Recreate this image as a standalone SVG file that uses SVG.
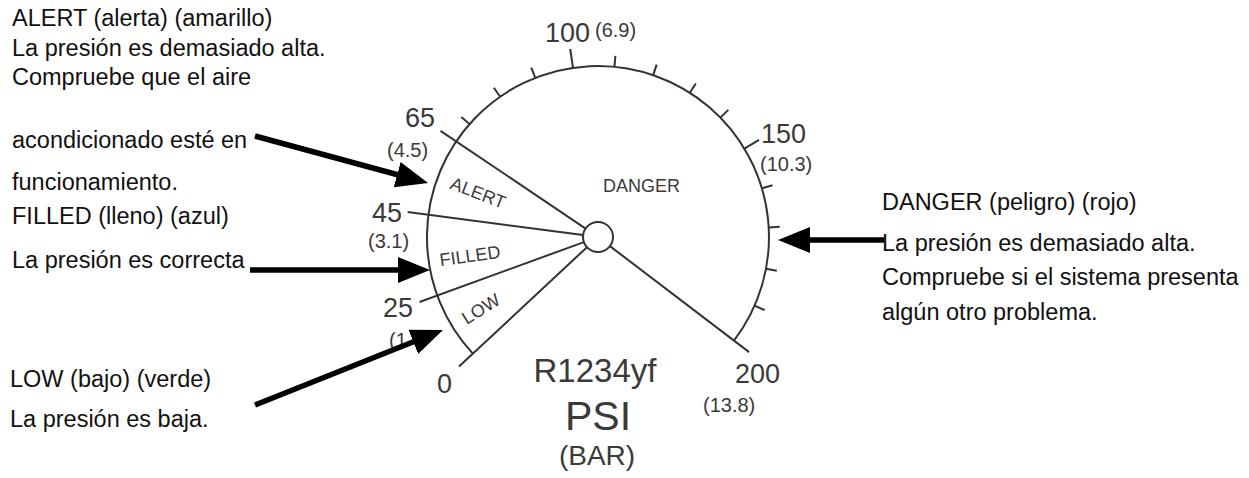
<svg xmlns="http://www.w3.org/2000/svg" width="1249" height="478" viewBox="0 0 1249 478">
<defs>
<style>
.note{font-family:"Liberation Sans",Arial,sans-serif;font-size:23.5px;fill:#111}
.g{font-family:"Liberation Sans",Arial,sans-serif;fill:#3a3a3a}
.num{font-size:27px}
.par{font-size:20px}
.sec{font-size:18px}
.gl{stroke:#333;stroke-width:2;fill:none}
.tk{stroke:#333;stroke-width:2}
.arr{stroke:#000;stroke-width:5.5;fill:none;marker-end:url(#ah)}
</style>
<marker id="ah" viewBox="0 0 32 26" refX="11" refY="13" markerWidth="32" markerHeight="26" markerUnits="userSpaceOnUse" orient="auto">
<path d="M0,0 L32,13 L0,26 Z" fill="#000"/>
</marker>
</defs>
<rect width="1249" height="478" fill="#fff"/>

<g id="gauge">
<path class="gl" d="M472.9,353.6 A171,171 0 1 1 734.0,340.6"/>
<g id="radials">
<line class="gl" x1="587.0" y1="247.2" x2="459.0" y2="366.6"/>
<line class="gl" x1="583.9" y1="242.1" x2="419.5" y2="302.0"/>
<line class="gl" x1="583.1" y1="235.0" x2="407.6" y2="212.0"/>
<line class="gl" x1="585.6" y1="228.6" x2="440.5" y2="130.8"/>
<line class="gl" x1="609.9" y1="246.1" x2="749.1" y2="352.1"/>
</g>
<g id="ticks">
<line class="tk" x1="469.5" y1="124.1" x2="461.3" y2="116.9"/>
<line class="tk" x1="500.2" y1="96.7" x2="493.9" y2="87.7"/>
<line class="tk" x1="535.3" y1="77.9" x2="531.3" y2="67.7"/>
<line class="tk" x1="573.0" y1="67.8" x2="570.2" y2="49.0"/>
<line class="tk" x1="614.4" y1="66.8" x2="615.4" y2="55.8"/>
<line class="tk" x1="653.1" y1="75.1" x2="656.7" y2="64.7"/>
<line class="tk" x1="689.9" y1="92.8" x2="695.8" y2="83.5"/>
<line class="tk" x1="720.4" y1="117.6" x2="728.3" y2="109.9"/>
<line class="tk" x1="744.4" y1="148.7" x2="759.0" y2="139.9"/>
<line class="tk" x1="762.0" y1="188.4" x2="772.5" y2="185.3"/>
<line class="tk" x1="768.7" y1="227.5" x2="779.7" y2="226.8"/>
<line class="tk" x1="766.0" y1="268.8" x2="776.8" y2="270.8"/>
<line class="tk" x1="754.6" y1="305.7" x2="764.7" y2="310.1"/>
</g>
<circle id="hub" cx="598" cy="237" r="15" fill="#fff" stroke="#333" stroke-width="2"/>
<g id="scale-labels" class="g">
<text class="num" x="545" y="42">100</text>
<text class="par" x="595" y="37">(6.9)</text>
<text class="num" x="405" y="127">65</text>
<text class="par" x="387" y="157">(4.5)</text>
<text class="num" x="372" y="222">45</text>
<text class="par" x="368" y="248">(3.1)</text>
<text class="num" x="383" y="317">25</text>
<text class="par" x="389" y="347">(1</text>
<text class="num" x="437" y="393">0</text>
<text class="num" x="761" y="143">150</text>
<text class="par" x="760" y="171">(10.3)</text>
<text class="num" x="735" y="383">200</text>
<text class="par" x="703" y="412">(13.8)</text>
</g>
<g id="sector-labels" class="g sec">
<text x="603" y="192">DANGER</text>
<text transform="translate(478,193) rotate(21)" x="0" y="6" text-anchor="middle">ALERT</text>
<text transform="translate(470,256) rotate(-8)" x="0" y="6" text-anchor="middle">FILLED</text>
<text transform="translate(481,309) rotate(-32)" x="0" y="6" text-anchor="middle">LOW</text>
</g>
<g id="units" class="g" text-anchor="middle">
<text x="595" y="382" font-size="33">R1234yf</text>
<text x="598" y="430" font-size="41">PSI</text>
<text x="597" y="465" font-size="28">(BAR)</text>
</g>
</g>

<g id="note-alert" class="note">
<text x="12" y="26">ALERT (alerta) (amarillo)</text>
<text x="12" y="56">La presión es demasiado alta.</text>
<text x="12" y="85">Compruebe que el aire</text>
<text x="12" y="148">acondicionado esté en</text>
<text x="12" y="190">funcionamiento.</text>
</g>
<g id="note-filled" class="note">
<text x="12" y="224">FILLED (lleno) (azul)</text>
<text x="12" y="268">La presión es correcta</text>
</g>
<g id="note-low" class="note">
<text x="10" y="387">LOW (bajo) (verde)</text>
<text x="10" y="427">La presión es baja.</text>
</g>
<g id="note-danger" class="note">
<text x="882" y="210">DANGER (peligro) (rojo)</text>
<text x="882" y="251">La presión es demasiado alta.</text>
<text x="882" y="285">Compruebe si el sistema presenta</text>
<text x="882" y="320">algún otro problema.</text>
</g>

<g id="connectors">
<line class="arr" x1="255" y1="136" x2="407.8" y2="177.5"/>
<line class="arr" x1="250" y1="270" x2="409" y2="270"/>
<line class="arr" x1="255" y1="405" x2="423.5" y2="337.8"/>
<line class="arr" x1="884" y1="240" x2="799" y2="240"/>
</g>
</svg>
